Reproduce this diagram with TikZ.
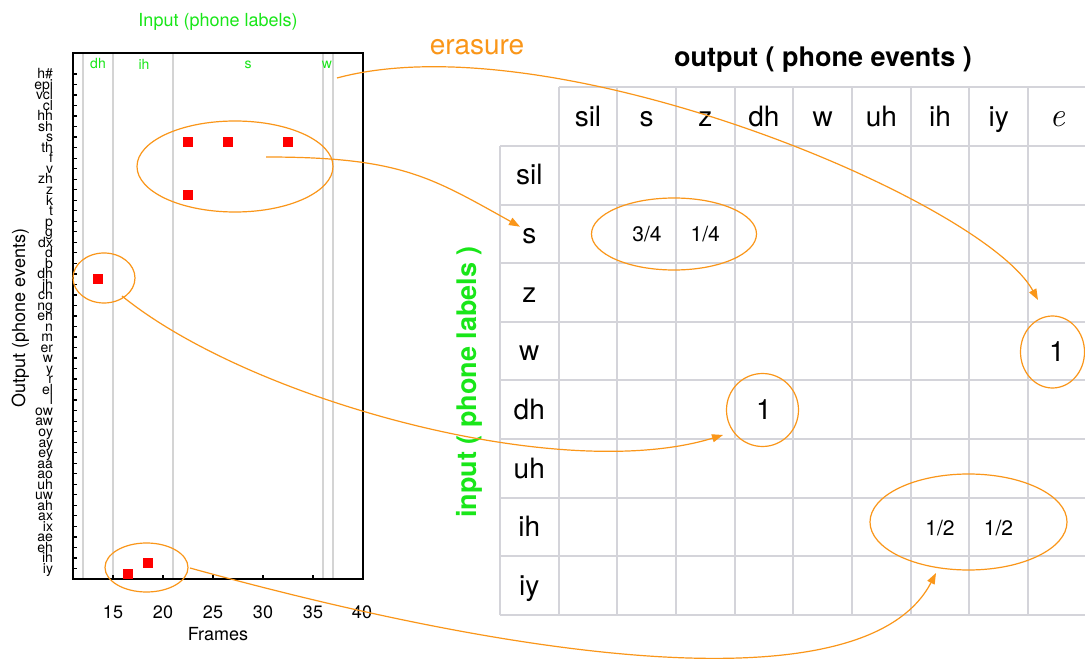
\documentclass[tikz,border=0pt]{standalone}
\usepackage{fontspec}
\setmainfont{TeX Gyre Heros}
\newfontfamily\lmfont{Latin Modern Roman}
\usetikzlibrary{arrows.meta,shapes.geometric}
\definecolor{grn}{RGB}{25,230,25}
\definecolor{org}{RGB}{250,150,25}
\definecolor{gridc}{RGB}{212,212,218}
\definecolor{pgray}{RGB}{212,212,212}
\tikzset{
  every node/.style={inner sep=0pt, outer sep=0pt},
  ylab/.style={anchor=base east, font=\fontsize{14}{14}\selectfont},
  plab/.style={anchor=base, text=grn, font=\fontsize{14}{14}\selectfont},
  axlab/.style={anchor=base, font=\fontsize{18}{18}\selectfont},
  tlab/.style={anchor=base, font=\fontsize{28}{28}\selectfont},
  tval/.style={anchor=base, font=\fontsize{21}{21}\selectfont},
  redsq/.style={fill=red, minimum width=10, minimum height=10},
  oring/.style={draw=org, ellipse, line width=1.2},
  oarrow/.style={draw=org, line width=1.2, -{Triangle[length=11,width=8]}},
  gline/.style={draw=gridc, line width=1.4},
  pline/.style={draw=pgray, line width=2}
}
\begin{document}
\begin{tikzpicture}[x=1pt,y=-1pt]
\useasboundingbox (0,0) rectangle (1085,660);
\fill[white] (0,0) rectangle (1085,660);

% ---------- left plot ----------
\foreach \x in {83,113,173,323,333} \draw[pline] (\x,53) -- (\x,579);
\draw[line width=2] (73,53) rectangle (363,579);
\foreach \k in {0,...,47} \draw[line width=1.3] (73,{74+10.52*\k}) -- ++(3.5,0);
\foreach \x in {113,163,213,263,313} \draw[line width=1.3] (\x,579) -- ++(0,-4);

\foreach \lab [count=\k from 0] in {h\#,epi,vcl,cl,hh,sh,s,th,f,v,zh,z,k,t,p,g,dx,d,b,dh,jh,ch,ng,en,n,m,er,w,y,r,el,l,ow,aw,oy,ay,ey,aa,ao,uh,uw,ah,ax,ix,ae,eh,ih,iy}
  \node[ylab] (yl\k) at (53,{74+10.52*\k+4.8}) {\lab};

\foreach \x/\l in {113/15,163/20,213/25,263/30,313/35,362/40}
  \node[axlab] (xt\l) at (\x,618) {\l};
\node[axlab] (frames) at (218,640) {Frames};
\node[axlab, rotate=90] (outlab) at (25,318) {Output (phone events)};
\node[axlab, text=grn] (inlab) at (218,27) {Input (phone labels)};

\node[plab] (pdh) at (98,69) {dh};
\node[plab] (pih) at (144,70) {ih};
\node[plab] (ps) at (248,68.5) {s};
\node[plab] (pw) at (327,68.5) {w};

\node[redsq] (r1) at (188,142.4) {};
\node[redsq] (r2) at (228,142.4) {};
\node[redsq] (r3) at (288,142.4) {};
\node[redsq] (r4) at (188,195) {};
\node[redsq] (r5) at (98,279) {};
\node[redsq] (r6) at (148,563.2) {};
\node[redsq] (r7) at (128,573.7) {};

\node[oring, minimum width=196, minimum height=91] (es) at (235,166.5) {};
\node[oring, minimum width=62, minimum height=50] (edh) at (104,278) {};
\node[oring, minimum width=83, minimum height=49] (eih) at (146.5,567.5) {};

% ---------- table ----------
\draw[gline] (559,87) -- (1085,87);
\foreach \yy in {146,205,263,322,380,439,498,556,615} \draw[gline] (500,\yy) -- (1085,\yy);
\draw[gline] (500,146) -- (500,615);
\foreach \xx in {559,617,676,735,793,852,911,969,1028} \draw[gline] (\xx,87) -- (\xx,615);

\foreach \t [count=\j] in {sil,s,z,dh,w,uh,ih,iy}
  \node[tlab] (h\j) at ({500+58.67*\j+29.3},127) {\t};
\node[anchor=base, font=\fontsize{34}{34}\selectfont] (h9) at ({500+58.67*9+29.3},127) {\lmfont\itshape e};
\foreach \t [count=\i] in {sil,s,z,w,dh,uh,ih,iy}
  \node[tlab] (rw\i) at (529.3,{87+58.66*\i+29.3+10}) {\t};

\node[tval] (v1) at (647,242) {3/4};
\node[tval] (v2) at (705.3,242) {1/4};
\node[tlab] (v3) at (764,420) {1};
\node[tlab] (v4) at (1057,361.5) {1};
\node[tval] (v5) at (940,535) {1/2};
\node[tval] (v6) at (998.5,535) {1/2};

\node[oring, minimum width=165, minimum height=72] (t1) at (674,234) {};
\node[oring, minimum width=72, minimum height=73] (t2) at (762.5,410) {};
\node[oring, minimum width=64, minimum height=72] (t3) at (1052.5,352) {};
\node[oring, minimum width=197, minimum height=96] (t4) at (968.5,522) {};

\node[anchor=base, text=org, font=\fontsize{28}{28}\selectfont] (eras) at (477,55) {erasure};
\node[anchor=base, font=\bfseries\fontsize{27}{27}\selectfont] (outt) at (823,67) {output ( phone events )};
\node[anchor=base, rotate=90, text=grn, font=\bfseries\fontsize{27}{27}\selectfont] (inpt) at (476,382) {input ( phone labels )};

% ---------- arrows ----------
\coordinate (a1s) at (337,78);
\coordinate (a1e) at (1038,300);
\coordinate (a2s) at (266,157);
\coordinate (a2e) at (520,226.7);
\coordinate (a3s) at (122,296);
\coordinate (a3e) at (723,435);
\coordinate (a4s) at (190,568);
\coordinate (a4e) at (936,573);
\draw[oarrow] (a1s) .. controls (552,20) and (983,200) .. (a1e);
\draw[oarrow] (a2s) .. controls (400,157) and (430,176.6) .. (a2e);
\draw[oarrow] (a3s) .. controls (250,400) and (560,485) .. (a3e);
\draw[oarrow] (a4s) .. controls (560,670) and (870,700) .. (a4e);
\end{tikzpicture}
\end{document}
